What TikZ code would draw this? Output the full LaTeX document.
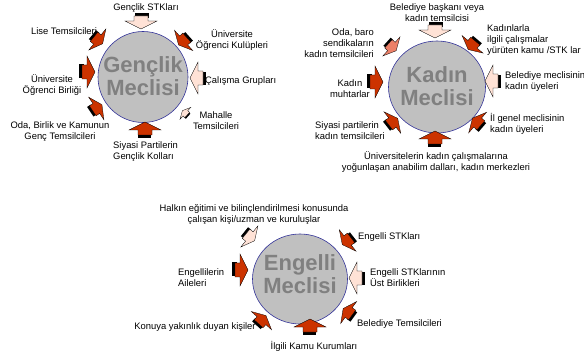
\documentclass[tikz,border=0pt]{standalone}
\usepackage{fontspec}
\setmainfont{Liberation Sans}
\usepackage{xcolor}
\usetikzlibrary{shapes.geometric}
\definecolor{arrred}{RGB}{204,51,0}
\definecolor{arrpink}{RGB}{255,226,214}
\definecolor{arrmix}{RGB}{236,128,104}
\definecolor{circgray}{RGB}{192,192,192}
\definecolor{circblue}{RGB}{51,51,153}
\definecolor{titlegray}{RGB}{128,128,128}

\begin{document}
\begin{tikzpicture}[x=1pt,y=-1pt,
	meclis/.style={ellipse,draw=circblue,line width=0.6pt,fill=circgray,inner sep=0pt},
	mtext/.style={inner sep=0pt,align=center,text=titlegray,font=\fontsize{22}{23}\selectfont\bfseries},
	lbl/.style={inner sep=0pt,align=center,font=\fontsize{9.4}{11}\selectfont}]
		\useasboundingbox (0,0) rectangle (584,358);
		% 绘制三个圆
		\node[meclis,minimum width=90pt,minimum height=91pt] (genc) at (143,77) {};
		\node[meclis,minimum width=97pt,minimum height=92pt] (kadin) at (437,87) {};
		\node[meclis,minimum width=95pt,minimum height=90pt] (engel) at (300,279) {};
		\node[mtext] (gtxt) at (143,76) {Gençlik\\Meclisi};
		\node[mtext] (ktxt) at (437,86) {Kadın\\Meclisi};
		\node[mtext] (etxt) at (300,274) {Engelli\\Meclisi};
		% 绘制箭头 (x/y/方向/大小/颜色)
		\foreach \x/\y/\d/\s/\c in {141/22/-90/1/arrpink, 183/41/-138/.85/arrred,
			197/78/180/1/arrpink, 185/113/138/.5/arrpink, 145/129/90/1/arrred,
			97/108/34/.85/arrred, 88/72/0/1/arrred, 98/40/-39/.85/arrred,
			435/31/-90/1/arrpink, 472/45/-130/.85/arrred, 492/81/180/1/arrpink,
			477/122/139/.85/arrred, 435/138/90/1/arrred, 393/122/38/.85/arrred,
			376/82/0/1/arrred, 392/47/-42/.8/arrmix,
			250/237/-39/.85/arrpink, 347/241/-142/.85/arrred, 356/278/180/1/arrpink,
			348/312/144/.85/arrred, 310/326/90/1/arrred, 262/320/48/.85/arrred,
			241/270/0/1/arrred} {
		\begin{scope}[shift={(\x,\y)},rotate=\d,scale=\s]
			\fill (-9,-7.5) rectangle (-4,6);
			\draw[fill=\c,line width=0.3pt] (7,0) -- (-1,16) -- (-1,7) -- (-6,7)
				-- (-6,-7) -- (-1,-7) -- (-1,-16) -- cycle;
		\end{scope}}
		% Gençlik Meclisi 标签
		\node[lbl] (gstk) at (146,8) {Gençlik STKları};
		\node[lbl] (lise) at (64,31) {Lise Temsilcileri};
		\node[lbl] (ukul) at (232,40) {Üniversite\\Öğrenci Kulüpleri};
		\node[lbl,anchor=west] (calis) at (205,81) {Çalışma Grupları};
		\node[lbl] (mah) at (216,121) {Mahalle\\Temsilcileri};
		\node[lbl,anchor=west,align=left] (sgk) at (113,152) {Siyasi Partilerin\\Gençlik Kolları};
		\node[lbl] (oda) at (60,132) {Oda, Birlik ve Kamunun\\Genç Temsilcileri};
		\node[lbl] (ubir) at (52,85) {Üniversite\\Öğrenci Birliği};
		% Kadın Meclisi 标签
		\node[lbl] (bbas) at (437,13) {Belediye başkanı veya\\kadın temsilcisi};
		\node[lbl,anchor=east,align=right] (baro) at (374,43) {Oda, baro\\sendikaların\\kadın temsilcileri};
		\node[lbl,anchor=west,align=left] (kstk) at (487,40) {Kadınlarla\\ilgili çalışmalar\\yürüten kamu /STK lar};
		\node[lbl,anchor=west,align=left] (bmec) at (505,82) {Belediye meclisinin\\kadın üyeleri};
		\node[lbl] (muh) at (350,89) {Kadın\\muhtarlar};
		\node[lbl,anchor=west,align=left] (ilg) at (490,124) {İl genel meclisinin\\kadın üyeleri};
		\node[lbl,anchor=west,align=left] (spk) at (315,131) {Siyasi partilerin\\kadın temsilcileri};
		\node[lbl] (univ) at (436,162) {Üniversitelerin kadın çalışmalarına\\yoğunlaşan anabilim dalları, kadın merkezleri};
		% Engelli Meclisi 标签
		\node[lbl] (halk) at (254,215) {Halkın eğitimi ve bilinçlendirilmesi konusunda\\çalışan kişi/uzman ve kuruluşlar};
		\node[lbl,anchor=west] (estk) at (358,237) {Engelli STKları};
		\node[lbl,anchor=west,align=left] (eust) at (370,278) {Engelli STKlarının\\Üst Birlikleri};
		\node[lbl,anchor=west] (btem) at (357,324) {Belediye Temsilcileri};
		\node[lbl] (ikam) at (314,346) {İlgili Kamu Kurumları};
		\node[lbl] (kon) at (195,327) {Konuya yakınlık duyan kişiler};
		\node[lbl,anchor=west,align=left] (eail) at (178,278) {Engellilerin\\Aileleri};
	\end{tikzpicture}
\end{document}
